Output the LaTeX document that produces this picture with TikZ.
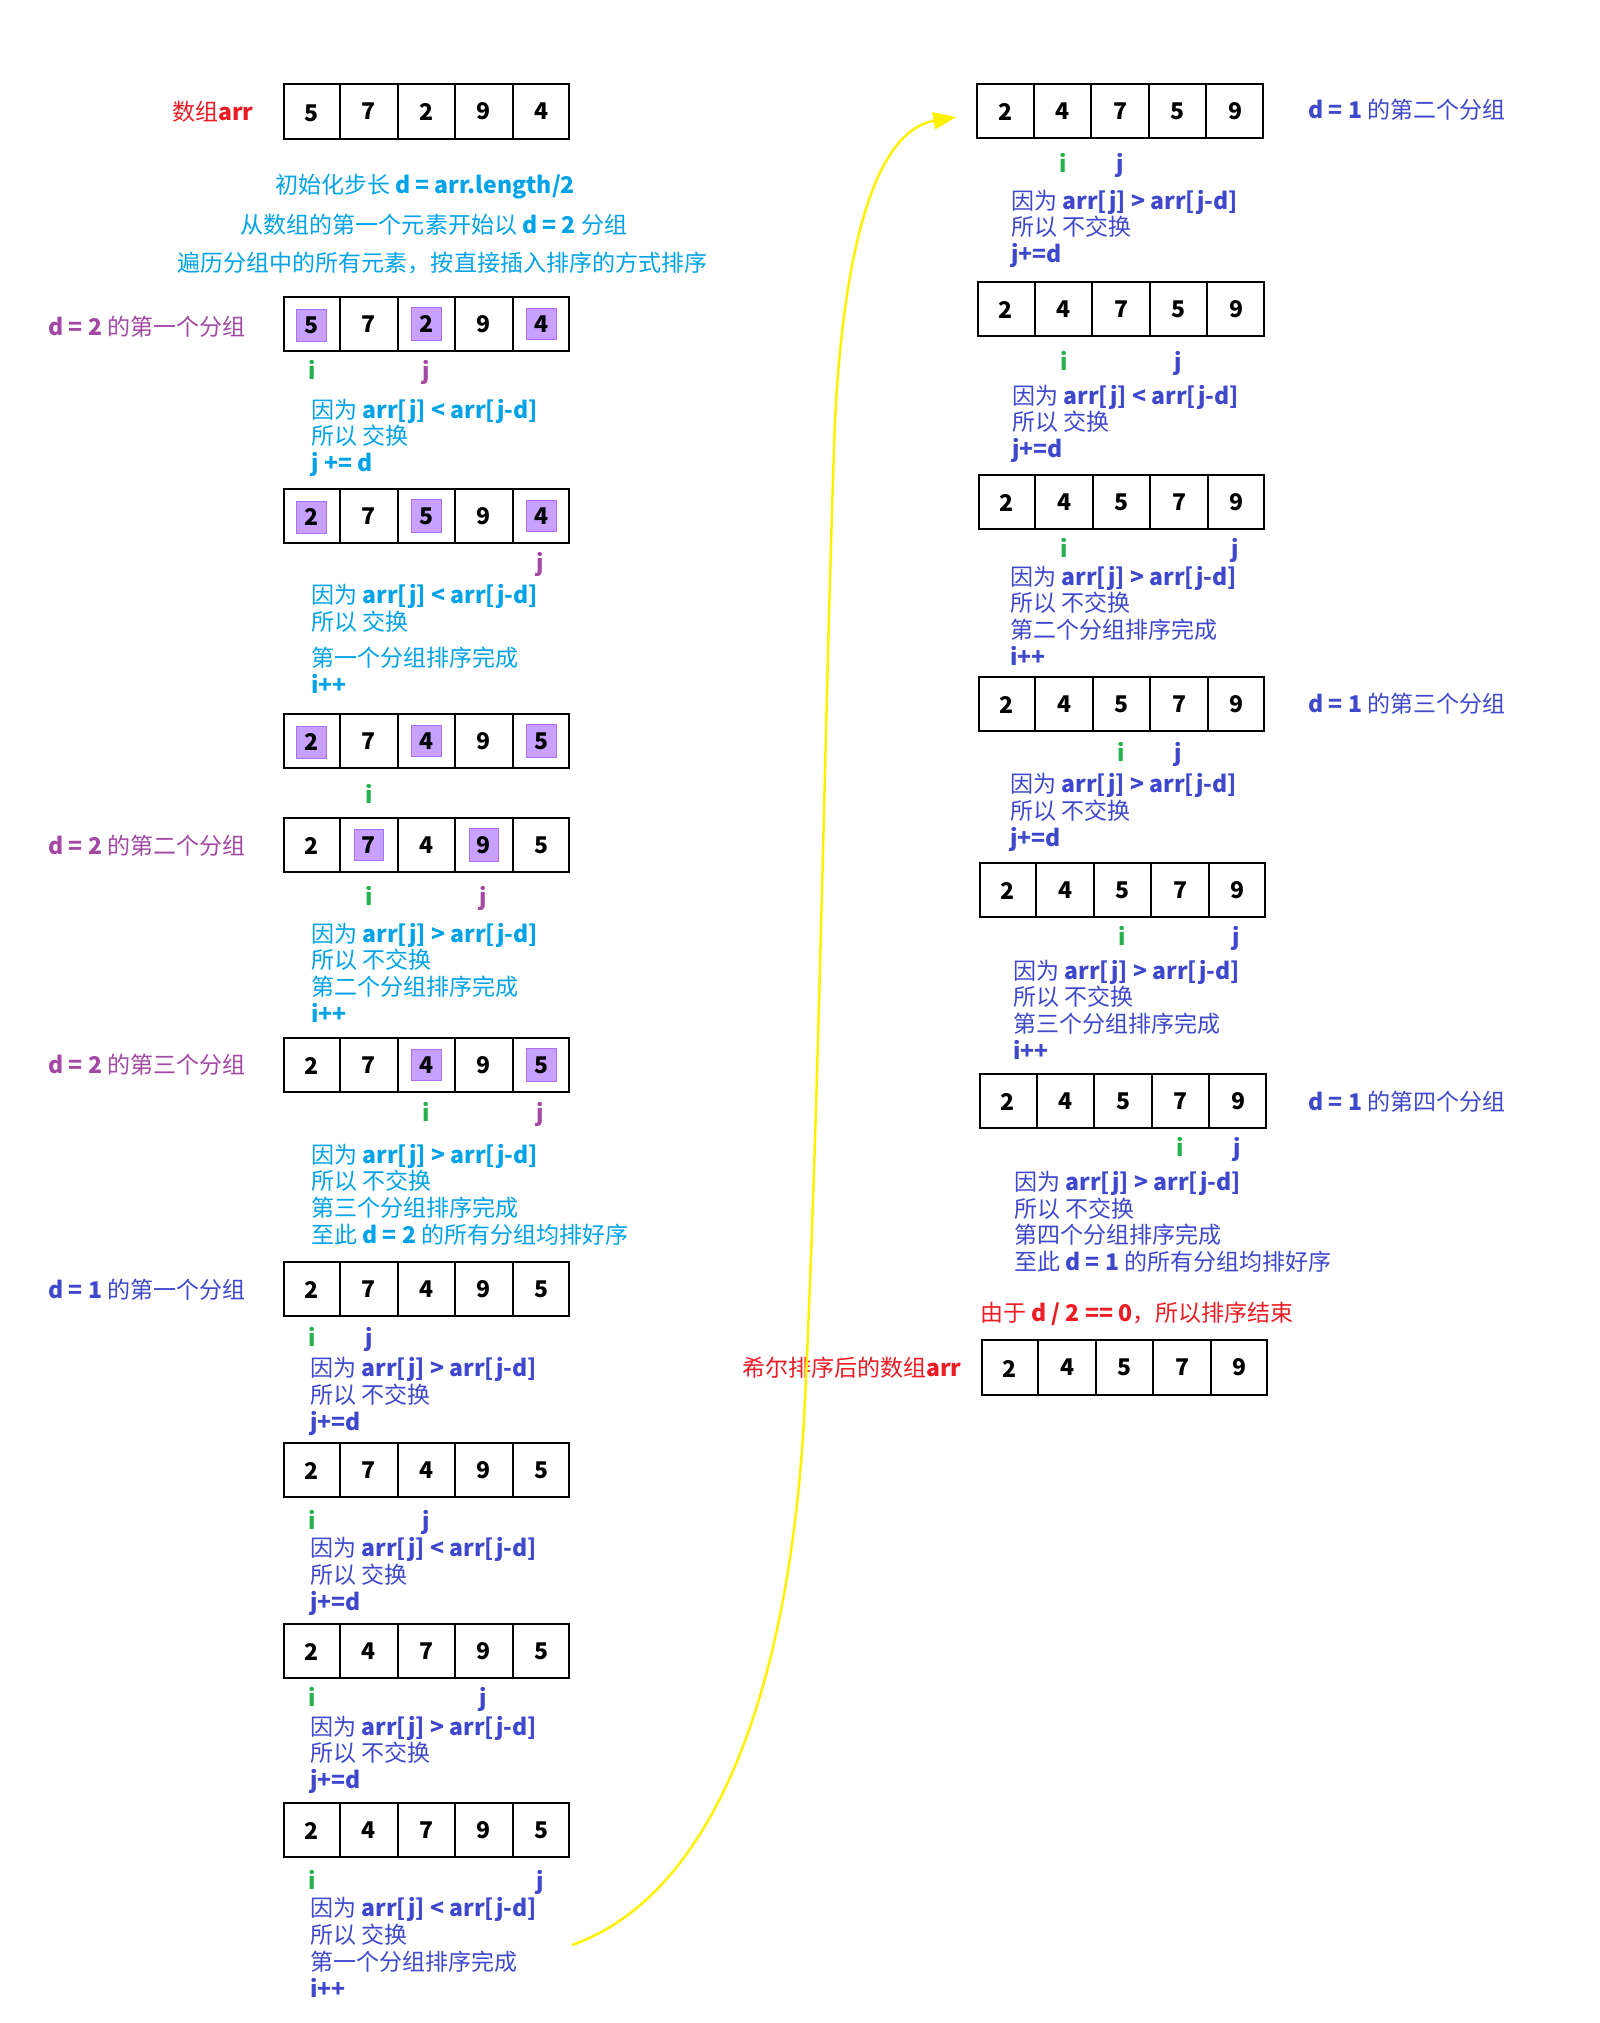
\documentclass[tikz,border=0pt]{standalone}
\usepackage{fontspec}
\setmainfont{Noto Sans CJK SC}
\usepackage{tikz}
\usetikzlibrary{shapes,arrows.meta,positioning,calc}
\usepackage{xcolor}
\definecolor{redtxt}{RGB}{237,28,36}
\definecolor{grppurple}{RGB}{163,73,164}
\definecolor{igreen}{RGB}{34,177,76}
\definecolor{skyblue}{RGB}{0,162,232}
\definecolor{indigo}{RGB}{63,72,204}
\definecolor{hlfill}{RGB}{200,160,255}
\definecolor{hlline}{RGB}{172,112,240}
\definecolor{flowyellow}{RGB}{255,242,0}
\setlength{\fboxsep}{1.4mm}
\setlength{\fboxrule}{0.2mm}
\newcommand{\hlnum}[1]{\fcolorbox{hlline}{hlfill}{#1}}

\begin{document}
\begin{tikzpicture}[x=0.2mm,y=-0.2mm,inner sep=0pt,
          font=\fontsize{13.1pt}{15.2pt}\selectfont,
          arr/.style={rectangle split,rectangle split horizontal,
                      rectangle split parts=5,draw,line width=0.4mm,
                      inner xsep=0pt,inner ysep=0pt,text width=11.1mm,
                      align=center,text height=7.4mm,text depth=3.5mm,
                      font=\fontsize{13.1pt}{15.2pt}\selectfont\bfseries},
          expl/.style={anchor=base west,align=left},
          grp/.style={anchor=base west},
          ilab/.style={anchor=base,igreen,font=\fontsize{13.1pt}{15.2pt}\selectfont\bfseries},
          jlab/.style={anchor=base,font=\fontsize{13.1pt}{15.2pt}\selectfont\bfseries},
          flow/.style={-{Triangle[length=4.6mm,width=3.4mm]},draw=flowyellow,line width=0.5mm}
        ]
        \useasboundingbox (0,0) rectangle (1600,2023);
        % --- d = 2 ---
        \node[redtxt,anchor=base east] (lbarr) at (254,120) {数组\textbf{arr}};
        \node[arr] (a0) at (426.5,111.5) {5\nodepart{two}7\nodepart{three}2\nodepart{four}9\nodepart{five}4};
        \node[skyblue,anchor=base] (l1) at (425,193) {初始化步长 \textbf{d = arr.length/2}};
        \node[skyblue,anchor=base] (l2) at (434,233) {从数组的第一个元素开始以 \textbf{d = 2} 分组};
        \node[skyblue,anchor=base] (l3) at (442.5,271) {遍历分组中的所有元素，按直接插入排序的方式排序};

        \node[grp,grppurple] (g21) at (48,335) {\textbf{d = 2} 的第一个分组};
        \node[arr] (a1) at (426.5,324) {\hlnum{5}\nodepart{two}7\nodepart{three}\hlnum{2}\nodepart{four}9\nodepart{five}\hlnum{4}};
        \node[ilab] (i1) at (312.5,379) {i};
        \node[jlab,grppurple] (j1) at (426.5,379) {j};
        \node[expl,skyblue] (t1) at (311,471.5) {因为 \textbf{arr[j] < arr[j-d]}\\所以 交换\\\textbf{j += d}};

        \node[arr] (a2) at (426.5,516) {\hlnum{2}\nodepart{two}7\nodepart{three}\hlnum{5}\nodepart{four}9\nodepart{five}\hlnum{4}};
        \node[jlab,grppurple] (j2) at (540.5,571) {j};
        \node[expl,skyblue] (t2) at (311,693.5) {因为 \textbf{arr[j] < arr[j-d]}\\所以 交换\\[1.9mm]第一个分组排序完成\\\textbf{i++}};

        \node[arr] (a3) at (426.5,741) {\hlnum{2}\nodepart{two}7\nodepart{three}\hlnum{4}\nodepart{four}9\nodepart{five}\hlnum{5}};
        \node[ilab] (i3) at (369.5,803) {i};

        \node[grp,grppurple] (g22) at (48,854) {\textbf{d = 2} 的第二个分组};
        \node[arr] (a4) at (426.5,845) {2\nodepart{two}\hlnum{7}\nodepart{three}4\nodepart{four}\hlnum{9}\nodepart{five}5};
        \node[ilab] (i4) at (369.5,905) {i};
        \node[jlab,grppurple] (j4) at (483.5,905) {j};
        \node[expl,skyblue] (t3) at (311,1022.2) {因为 \textbf{arr[j] > arr[j-d]}\\所以 不交换\\第二个分组排序完成\\\textbf{i++}};

        \node[grp,grppurple] (g23) at (48,1073) {\textbf{d = 2} 的第三个分组};
        \node[arr] (a5) at (426.5,1065) {2\nodepart{two}7\nodepart{three}\hlnum{4}\nodepart{four}9\nodepart{five}\hlnum{5}};
        \node[ilab] (i5) at (426.5,1121) {i};
        \node[jlab,grppurple] (j5) at (540.5,1121) {j};
        \node[expl,skyblue] (t4) at (311,1243.2) {因为 \textbf{arr[j] > arr[j-d]}\\所以 不交换\\第三个分组排序完成\\至此 \textbf{d = 2} 的所有分组均排好序};

        % --- d = 1 ---
        \node[grp,indigo] (g11) at (48,1298) {\textbf{d = 1} 的第一个分组};
        \node[arr] (a6) at (426.5,1289) {2\nodepart{two}7\nodepart{three}4\nodepart{four}9\nodepart{five}5};
        \node[ilab] (i6) at (312.5,1346) {i};
        \node[jlab,indigo] (j6) at (369.5,1346) {j};
        \node[expl,indigo] (t5) at (310,1430) {因为 \textbf{arr[j] > arr[j-d]}\\所以 不交换\\\textbf{j+=d}};

        \node[arr] (a7) at (426.5,1470) {2\nodepart{two}7\nodepart{three}4\nodepart{four}9\nodepart{five}5};
        \node[ilab] (i7) at (312.5,1529) {i};
        \node[jlab,indigo] (j7) at (426.5,1529) {j};
        \node[expl,indigo] (t6) at (310,1610) {因为 \textbf{arr[j] < arr[j-d]}\\所以 交换\\\textbf{j+=d}};

        \node[arr] (a8) at (426.5,1651) {2\nodepart{two}4\nodepart{three}7\nodepart{four}9\nodepart{five}5};
        \node[ilab] (i8) at (312.5,1706) {i};
        \node[jlab,indigo] (j8) at (483.5,1706) {j};
        \node[expl,indigo] (t7) at (310,1788.5) {因为 \textbf{arr[j] > arr[j-d]}\\所以 不交换\\\textbf{j+=d}};

        \node[arr] (a9) at (426.5,1830) {2\nodepart{two}4\nodepart{three}7\nodepart{four}9\nodepart{five}5};
        \node[ilab] (i9) at (312.5,1889) {i};
        \node[jlab,indigo] (j9) at (540.5,1889) {j};
        \node[expl,indigo] (t8) at (310,1997) {因为 \textbf{arr[j] < arr[j-d]}\\所以 交换\\第一个分组排序完成\\\textbf{i++}};

        % right column
        \node[arr] (b1) at (1120,111) {2\nodepart{two}4\nodepart{three}7\nodepart{four}5\nodepart{five}9};
        \node[grp,indigo] (g12) at (1308,118) {\textbf{d = 1} 的第二个分组};
        \node[ilab] (ib1) at (1063,172) {i};
        \node[jlab,indigo] (jb1) at (1120,172) {j};
        \node[expl,indigo] (u1) at (1011,262.5) {因为 \textbf{arr[j] > arr[j-d]}\\所以 不交换\\\textbf{j+=d}};

        \node[arr] (b2) at (1121,309) {2\nodepart{two}4\nodepart{three}7\nodepart{four}5\nodepart{five}9};
        \node[ilab] (ib2) at (1064,370) {i};
        \node[jlab,indigo] (jb2) at (1178,370) {j};
        \node[expl,indigo] (u2) at (1012,457.5) {因为 \textbf{arr[j] < arr[j-d]}\\所以 交换\\\textbf{j+=d}};

        \node[arr] (b3) at (1121.5,502) {2\nodepart{two}4\nodepart{three}5\nodepart{four}7\nodepart{five}9};
        \node[ilab] (ib3) at (1064.5,557) {i};
        \node[jlab,indigo] (jb3) at (1235.5,557) {j};
        \node[expl,indigo] (u3) at (1010,665.2) {因为 \textbf{arr[j] > arr[j-d]}\\所以 不交换\\第二个分组排序完成\\\textbf{i++}};

        \node[arr] (b4) at (1121.5,704) {2\nodepart{two}4\nodepart{three}5\nodepart{four}7\nodepart{five}9};
        \node[grp,indigo] (g13) at (1308,712) {\textbf{d = 1} 的第三个分组};
        \node[ilab] (ib4) at (1121.5,761) {i};
        \node[jlab,indigo] (jb4) at (1178.5,761) {j};
        \node[expl,indigo] (u4) at (1010,846) {因为 \textbf{arr[j] > arr[j-d]}\\所以 不交换\\\textbf{j+=d}};

        \node[arr] (b5) at (1122.5,890) {2\nodepart{two}4\nodepart{three}5\nodepart{four}7\nodepart{five}9};
        \node[ilab] (ib5) at (1122.5,945) {i};
        \node[jlab,indigo] (jb5) at (1236.5,945) {j};
        \node[expl,indigo] (u5) at (1013,1059.2) {因为 \textbf{arr[j] > arr[j-d]}\\所以 不交换\\第三个分组排序完成\\\textbf{i++}};

        \node[arr] (b6) at (1123,1101) {2\nodepart{two}4\nodepart{three}5\nodepart{four}7\nodepart{five}9};
        \node[grp,indigo] (g14) at (1308,1110) {\textbf{d = 1} 的第四个分组};
        \node[ilab] (ib6) at (1180,1156) {i};
        \node[jlab,indigo] (jb6) at (1237,1156) {j};
        \node[expl,indigo] (u6) at (1014,1270.5) {因为 \textbf{arr[j] > arr[j-d]}\\所以 不交换\\第四个分组排序完成\\至此 \textbf{d = 1} 的所有分组均排好序};

        % result
        \node[redtxt,anchor=base] (fin) at (1137,1321) {由于 \textbf{d / 2 == 0}，所以排序结束};
        \node[redtxt,anchor=base east] (lbres) at (962,1376) {希尔排序后的数组\textbf{arr}};
        \node[arr] (b7) at (1124.5,1367.5) {2\nodepart{two}4\nodepart{three}5\nodepart{four}7\nodepart{five}9};

        \coordinate (ystart) at (572,1945);
        \draw[flow] (ystart) .. controls (700,1900) and (790,1720) .. (805,1400)
              .. controls (820,1080) and (825,700) .. (835,420)
              .. controls (845,230) and (880,130) .. ([shift={(-20,6)}]b1.west);
      \end{tikzpicture}
\end{document}
